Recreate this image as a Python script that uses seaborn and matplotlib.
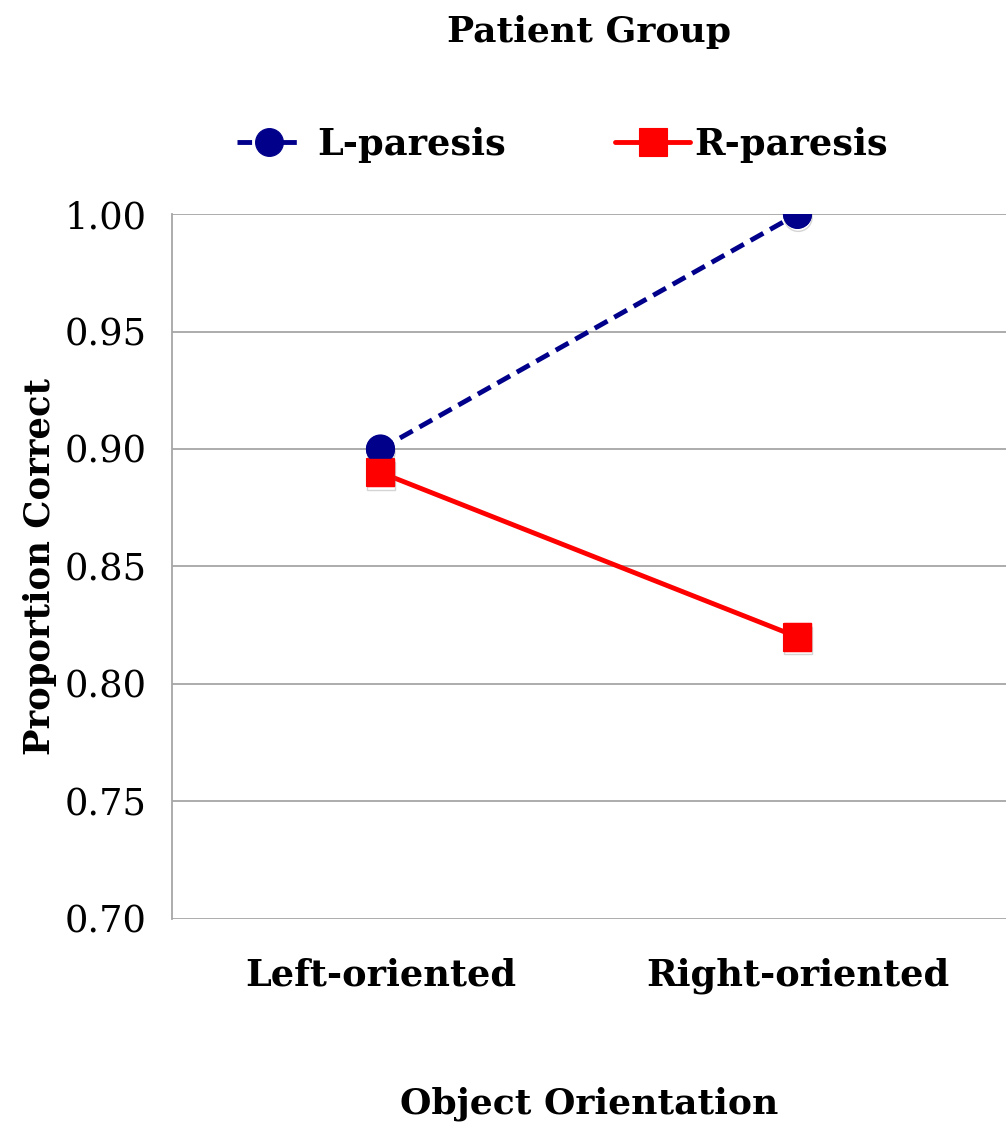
import matplotlib
matplotlib.use("Agg")
import matplotlib.pyplot as plt
import matplotlib.patheffects as pe
import seaborn as sns
import pandas as pd

orientations = ["Left-oriented", "Right-oriented"]
l_paresis = [0.90, 1.00]
r_paresis = [0.89, 0.82]
groups = ["L-paresis", "R-paresis"]
y_ticks = [0.70, 0.75, 0.80, 0.85, 0.90, 0.95, 1.00]

df = pd.DataFrame({
    "Object Orientation": orientations * 2,
    "Proportion Correct": l_paresis + r_paresis,
    "Patient Group": [groups[0]] * 2 + [groups[1]] * 2,
})

sns.set_theme(style="white")
plt.rcParams["font.family"] = ["DejaVu Serif"]
plt.rcParams["text.color"] = "black"
plt.rcParams["axes.labelcolor"] = "black"
plt.rcParams["xtick.color"] = "black"
plt.rcParams["ytick.color"] = "black"

W, H = 1008, 1127
fig = plt.figure(figsize=(W / 100, H / 100), dpi=100)
ax = fig.add_axes([0.1706, 0.1846, 0.8274, 0.6255])

palette = {"L-paresis": "#00008B", "R-paresis": "#FF0000"}
MS = 20

sns.lineplot(
    data=df, x="Object Orientation", y="Proportion Correct",
    hue="Patient Group", style="Patient Group",
    palette=palette, markers={"L-paresis": "o", "R-paresis": "s"},
    dashes={"L-paresis": (3, 1.6), "R-paresis": ""},
    linewidth=3.5, markersize=MS, markeredgewidth=0.8, ax=ax, legend=True,
    sort=False,
)
for ln in ax.get_lines():
    ln.set_markeredgecolor(ln.get_color())

# soft drop shadow under the markers only
for ln in list(ax.get_lines()):
    if len(ln.get_xdata()) == 0:
        continue
    mk = ax.plot(ln.get_xdata(), ln.get_ydata(), linestyle="none",
                 marker=ln.get_marker(), markersize=MS, color=ln.get_color(),
                 markeredgecolor=ln.get_color(), zorder=ln.get_zorder() + 0.1)[0]
    mk.set_path_effects([pe.SimpleLineShadow(offset=(0.5, -2.5), shadow_color="0.45", alpha=0.3), pe.Normal()])

ax.set_xlim(-0.5, 1.5)
ax.set_ylim(0.70, 1.00)
ax.set_yticks(y_ticks)
ax.set_yticklabels([f"{v:.2f}" for v in y_ticks], fontsize=26.5)
ax.tick_params(axis="x", labelsize=26.5, pad=28, length=0)
ax.tick_params(axis="y", pad=18, length=0)
for lab in ax.get_xticklabels():
    lab.set_fontweight("bold")

ax.grid(axis="y", color="#a6a6a6", linewidth=1.3)
ax.set_axisbelow(True)
for side in ["top", "right", "bottom"]:
    ax.spines[side].set_visible(False)
ax.spines["left"].set_color("#a6a6a6")
ax.spines["left"].set_linewidth(1.3)

ax.set_xlabel("Object Orientation", fontsize=26, fontweight="bold", labelpad=66)
ax.set_ylabel("Proportion Correct", fontsize=25.5, fontweight="bold", labelpad=6)

handles, labels = ax.get_legend_handles_labels()
for h in handles:
    h.set_markeredgecolor(h.get_color())
legend_y = 1 - 145 / H
leg_l = ax.legend([handles[0]], [labels[0]], loc="center left",
                  bbox_to_anchor=(237 / W, legend_y), bbox_transform=fig.transFigure,
                  frameon=False, prop={"size": 26.5, "weight": "bold"},
                  borderpad=0, borderaxespad=0, handlelength=1.75, handletextpad=0.42)
ax.add_artist(leg_l)
ax.legend([handles[1]], [labels[1]], loc="center left",
          bbox_to_anchor=(615 / W, legend_y), bbox_transform=fig.transFigure,
          frameon=False, prop={"size": 26.5, "weight": "bold"},
          borderpad=0, borderaxespad=0, handlelength=2.05, handletextpad=0.1)

fig.text((0.1706 + 0.998) / 2, 0.972, "Patient Group", ha="center", va="center",
         fontsize=26, fontweight="bold")

fig.savefig("out.png", dpi=100)
